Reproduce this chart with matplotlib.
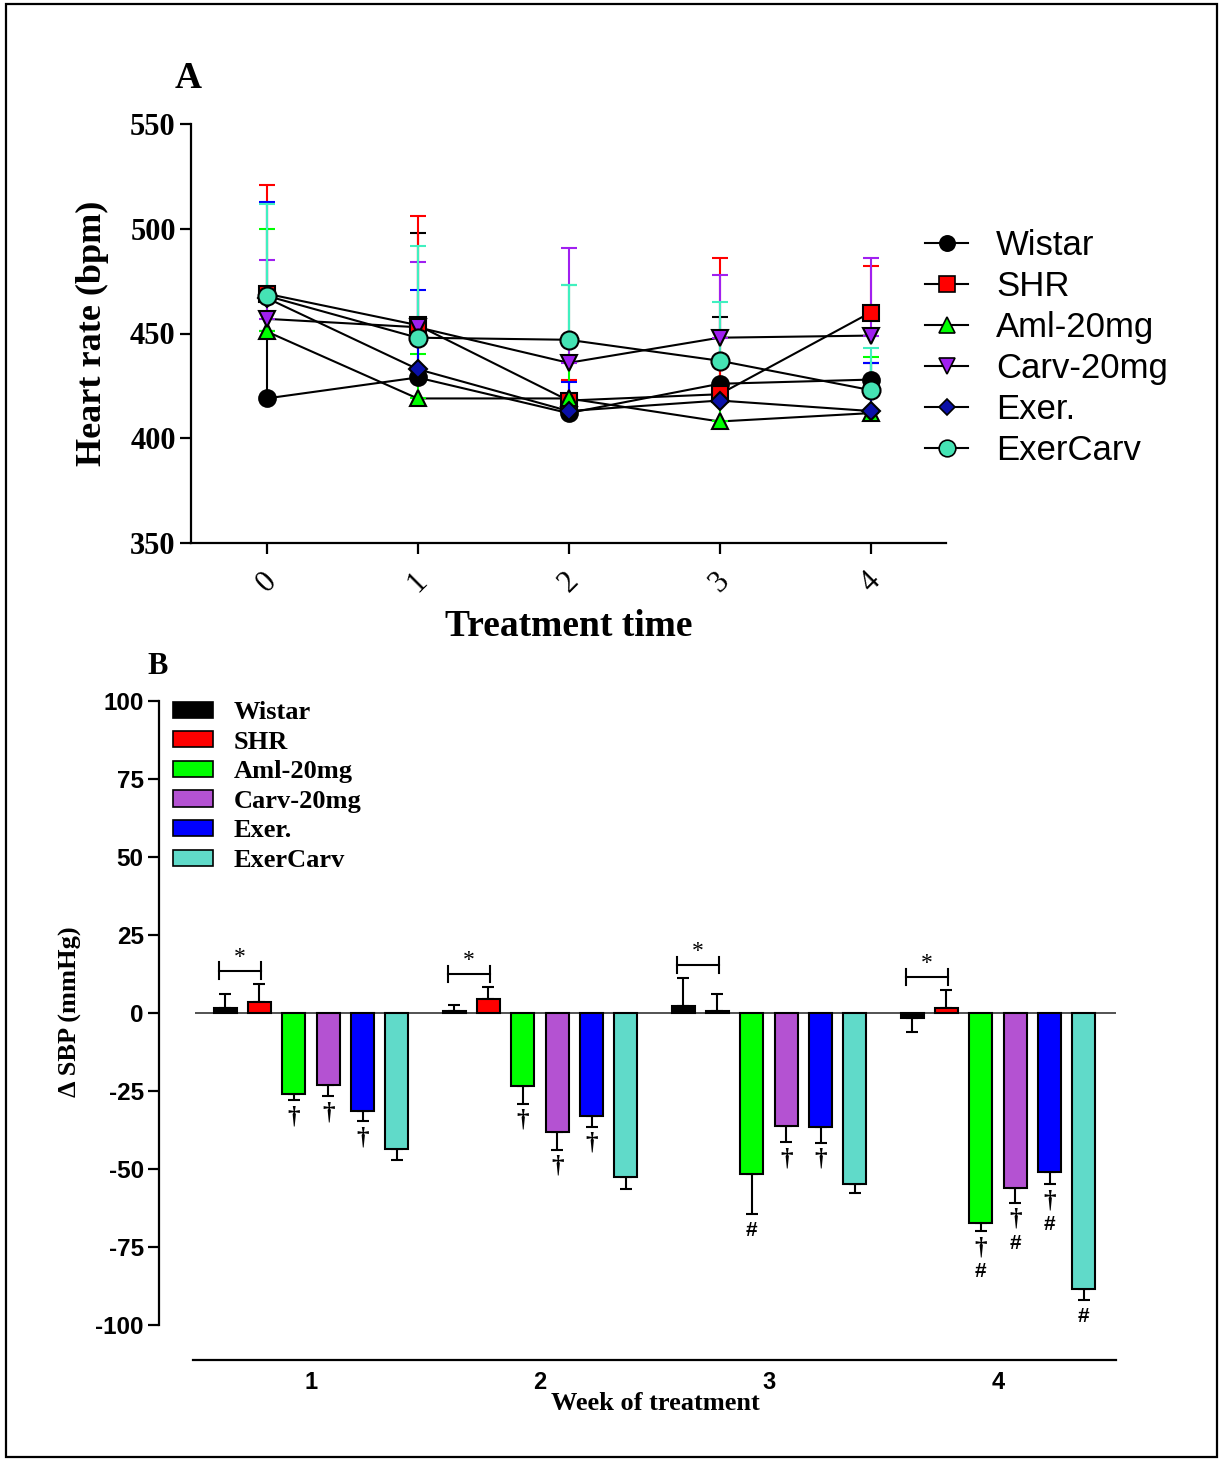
import matplotlib
matplotlib.use("Agg")
import matplotlib.pyplot as plt
from matplotlib.patches import Rectangle, Patch
from matplotlib.lines import Line2D
import numpy as np

plt.rcParams["axes.unicode_minus"] = False

# ------------------------------------------------------
# data
groups = ["Wistar", "SHR", "Aml-20mg", "Carv-20mg", "Exer.", "ExerCarv"]

# panel A - heart rate (bpm), mean and upper SD
time_a = [0, 1, 2, 3, 4]
hr_wistar = [419, 429, 412, 426, 428]
hr_shr = [469, 454, 418, 421, 460]
hr_aml = [451, 419, 419, 408, 412]
hr_carv = [457, 453, 436, 448, 449]
hr_exer = [467, 433, 413, 418, 413]
hr_excarv = [468, 448, 447, 437, 423]

sd_wistar = [32, 69, 8, 32, 8]
sd_shr = [52, 52, 10, 65, 22]
sd_aml = [49, 21, 54, 19, 27]
sd_carv = [28, 31, 55, 30, 37]
sd_exer = [46, 38, 14, 9, 23]
sd_excarv = [44, 44, 26, 28, 20]

# panel B - delta SBP (mmHg), mean and SD per week
weeks_b = [1, 2, 3, 4]
dsbp_wistar = [1.5, 0.6, 2.2, -1.5]
dsbp_shr = [3.4, 4.5, 0.6, 1.7]
dsbp_aml = [-26.0, -23.3, -51.5, -67.4]
dsbp_carv = [-23.2, -38.2, -36.3, -56.2]
dsbp_exer = [-31.5, -33.1, -36.4, -51.0]
dsbp_excarv = [-43.5, -52.5, -54.8, -88.5]

sem_wistar = [4.6, 2.1, 9.0, 4.7]
sem_shr = [5.9, 3.8, 5.6, 5.6]
sem_aml = [1.9, 5.8, 13.0, 2.6]
sem_carv = [3.4, 5.6, 5.0, 4.6]
sem_exer = [3.2, 3.3, 5.2, 3.8]
sem_excarv = [3.6, 3.8, 3.0, 3.4]

# significance marks (per week, per group)
dagger_marks = [[0, 0, 1, 1, 1, 0],
                [0, 0, 1, 1, 1, 0],
                [0, 0, 0, 1, 1, 0],
                [0, 0, 1, 1, 1, 0]]
hash_marks = [[0, 0, 0, 0, 0, 0],
              [0, 0, 0, 0, 0, 0],
              [0, 0, 1, 0, 0, 0],
              [0, 0, 1, 1, 1, 1]]

# ------------------------------------------------------
serif = "Liberation Serif"
sans = "Liberation Sans"

W, H = 1221, 1459
fig = plt.figure(figsize=(W / 100, H / 100), dpi=100)

# frame around the whole figure
fig.add_artist(Rectangle((6 / W, 2 / H), 1211 / W, 1453 / H, transform=fig.transFigure,
                         fill=False, edgecolor="black", linewidth=1.6))

# ------------------------------------------------------
# panel A
axA = fig.add_axes([191 / W, 1 - 543 / H, (946 - 191) / W, (543 - 124) / H])

hr_means = [hr_wistar, hr_shr, hr_aml, hr_carv, hr_exer, hr_excarv]
hr_sds = [sd_wistar, sd_shr, sd_aml, sd_carv, sd_exer, sd_excarv]
a_markers = ["o", "s", "^", "v", "D", "o"]
a_face = ["black", "#ff0000", "#00ff00", "#a020f0", "#0a10a8", "#45e3b4"]
a_err = ["black", "#ff0000", "#00ff00", "#a020f0", "#0000ff", "#40f0c0"]
a_ms = [12, 12, 12, 12, 9, 13]

for i in range(len(groups)):
    axA.plot(time_a, hr_means[i], color="black", lw=1.5, zorder=2)
for i in range(len(groups)):
    axA.errorbar(time_a, hr_means[i], yerr=[np.zeros(5), hr_sds[i]], fmt="none",
                 ecolor=a_err[i], elinewidth=1.5, capsize=6, capthick=1.5, zorder=3)
for i in range(len(groups)):
    axA.plot(time_a, hr_means[i], ls="none", marker=a_markers[i], ms=a_ms[i],
             mfc=a_face[i], mec="black", mew=1.5, zorder=4 + i)

axA.set_xlim(-0.5, 4.5)
axA.set_ylim(350, 550)
axA.set_yticks([350, 400, 450, 500, 550])
axA.set_xticks(time_a)
axA.set_xticklabels([str(t) for t in time_a], rotation=45, fontfamily=serif, fontsize=22)
for lab in axA.get_yticklabels():
    lab.set_fontfamily(serif)
    lab.set_fontweight("bold")
    lab.set_fontsize(22)
axA.spines["top"].set_visible(False)
axA.spines["right"].set_visible(False)
for s in ["left", "bottom"]:
    axA.spines[s].set_linewidth(1.6)
axA.tick_params(axis="both", direction="out", length=8, width=1.6)
axA.tick_params(axis="x", pad=9)
axA.tick_params(axis="y", pad=3)

axA.set_ylabel("Heart rate (bpm)", fontfamily=serif, fontweight="bold", fontsize=26)
axA.yaxis.set_label_coords(-0.108, 0.5)
axA.set_xlabel("Treatment time", fontfamily=serif, fontweight="bold", fontsize=27)
axA.xaxis.set_label_coords(0.5, -0.158)

handlesA = [Line2D([], [], color="black", lw=1.5, marker=a_markers[i], ms=a_ms[i] - 1,
                   mfc=a_face[i], mec="black", mew=1.2) for i in range(len(groups))]
axA.legend(handlesA, groups, loc="center left", bbox_to_anchor=(0.972, 0.466),
           frameon=False, borderpad=0, borderaxespad=0, handlelength=1.25,
           handletextpad=0.8, labelspacing=0.23,
           prop={"family": sans, "size": 25})

fig.text(188 / W, 1 - 78 / H, "A", fontfamily=serif, fontweight="bold", fontsize=27,
         ha="center", va="center")

# ------------------------------------------------------
# panel B
axB = fig.add_axes([159 / W, 1 - 1360 / H, (1120 - 159) / W, (1360 - 701) / H])

b_means = [dsbp_wistar, dsbp_shr, dsbp_aml, dsbp_carv, dsbp_exer, dsbp_excarv]
b_errs = [sem_wistar, sem_shr, sem_aml, sem_carv, sem_exer, sem_excarv]
b_colors = ["black", "#ff0000", "#00ff00", "#b452d2", "#0000ff", "#60dac9"]

step = 0.15
bar_w = 0.1
weeks = np.array(weeks_b, dtype=float)
for i in range(len(groups)):
    xs = weeks + (i - 2.5) * step
    vals = np.array(b_means[i])
    errs = np.array(b_errs[i])
    lower = np.where(vals < 0, errs, 0)
    upper = np.where(vals >= 0, errs, 0)
    axB.errorbar(xs, vals, yerr=[lower, upper], fmt="none", ecolor="black",
                 elinewidth=1.5, capsize=4.5, capthick=1.5, zorder=2)
    axB.bar(xs, vals, width=bar_w, color=b_colors[i], edgecolor="black",
            linewidth=1.5, zorder=3)

# zero line
x_lo = weeks[0] - 2.5 * step - 0.13
x_hi = weeks[-1] + 2.5 * step + 0.14
axB.hlines(0, x_lo, x_hi, color="#444444", lw=1.3, zorder=1)

# significance: brackets with star between Wistar and SHR
for j, wk in enumerate(weeks):
    xw = wk - 2.5 * step
    xs_ = wk - 1.5 * step
    top = max(dsbp_wistar[j] + sem_wistar[j], dsbp_shr[j] + sem_shr[j]) + 4.3
    axB.plot([xw - 0.025, xs_ + 0.005], [top, top], color="black", lw=1.5)
    axB.plot([xw - 0.025, xw - 0.025], [top - 2.6, top + 2.6], color="black", lw=1.5)
    axB.plot([xs_ + 0.005, xs_ + 0.005], [top - 2.6, top + 2.6], color="black", lw=1.5)
    axB.text((xw + xs_) / 2 - 0.01, top + 0.8, "*", ha="center", va="bottom",
             fontfamily=serif, fontsize=17)

# daggers and hashes below bars
for j, wk in enumerate(weeks):
    for i in range(len(groups)):
        x = wk + (i - 2.5) * step
        y = b_means[i][j] - b_errs[i][j]
        off = 12
        if dagger_marks[j][i]:
            axB.annotate("\u2020", xy=(x, y), xytext=(0, -off), textcoords="offset points",
                         ha="center", va="center", fontfamily=serif, fontweight="bold",
                         fontsize=18)
            off = 29
        if hash_marks[j][i]:
            axB.annotate("#", xy=(x, y), xytext=(0, -off), textcoords="offset points",
                         ha="center", va="center", fontfamily=sans, fontweight="bold",
                         fontsize=15)

axB.set_xlim(1 - (311 - 159) / 229, 1 + (1120 - 311) / 229)
axB.set_ylim(-111.2, 100)
axB.set_yticks([-100, -75, -50, -25, 0, 25, 50, 75, 100])
axB.set_xticks(weeks_b)
axB.set_xticklabels([str(w) for w in weeks_b], fontfamily=sans, fontweight="bold",
                    fontsize=17)
for lab in axB.get_yticklabels():
    lab.set_fontfamily(sans)
    lab.set_fontweight("bold")
    lab.set_fontsize(17.5)
axB.spines["top"].set_visible(False)
axB.spines["right"].set_visible(False)
axB.spines["left"].set_bounds(-100, 100)
axB.spines["bottom"].set_bounds(x_lo - 0.01, x_hi)
for s in ["left", "bottom"]:
    axB.spines[s].set_linewidth(1.6)
axB.tick_params(axis="y", direction="out", length=8, width=1.6, pad=3)
axB.tick_params(axis="x", length=0, pad=8)

axB.set_ylabel("\u0394 SBP (mmHg)", fontfamily=serif, fontweight="bold", fontsize=19)
axB.yaxis.set_label_coords(-0.08, 0.528)
axB.set_xlabel("Week of treatment", fontfamily=serif, fontweight="bold", fontsize=19)
axB.xaxis.set_label_coords(0.5167, -0.048)

handlesB = [Patch(facecolor=b_colors[i], edgecolor="black", linewidth=1.2)
            for i in range(len(groups))]
axB.legend(handlesB, groups, loc="upper left", bbox_to_anchor=(0.0146, 1.0),
           frameon=False, borderpad=0, borderaxespad=0, handlelength=1.5,
           handleheight=0.57, handletextpad=0.8, labelspacing=0.25,
           prop={"family": serif, "weight": "bold", "size": 19})

fig.text(158 / W, 1 - 667 / H, "B", fontfamily=serif, fontweight="bold", fontsize=22,
         ha="center", va="center")

fig.savefig("out.png", dpi=100)
